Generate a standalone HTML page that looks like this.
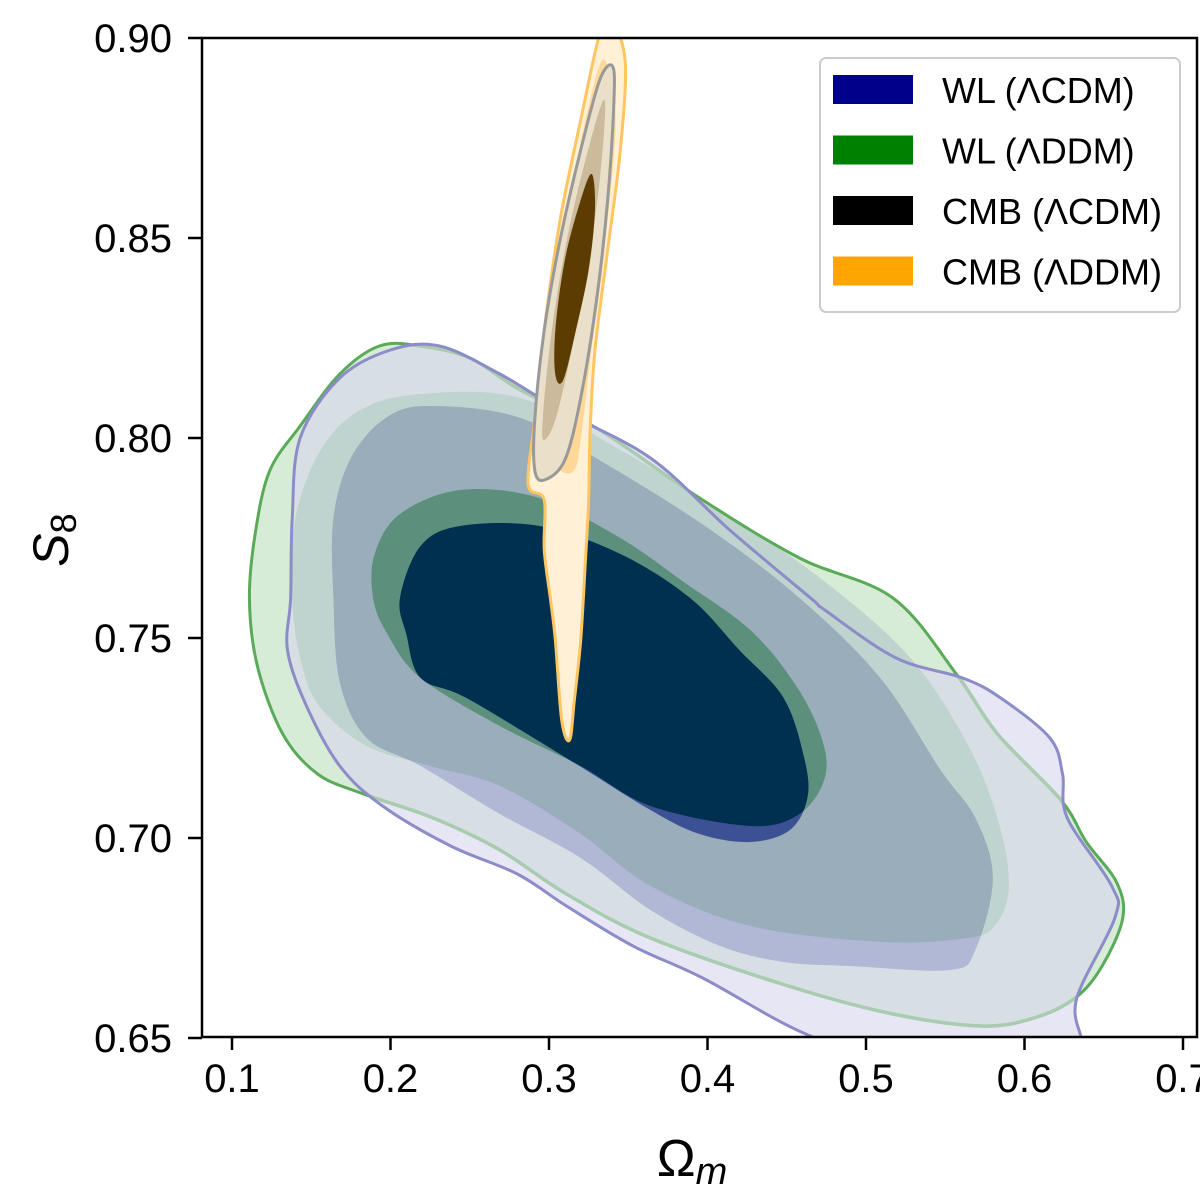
<!DOCTYPE html>
<html><head><meta charset="utf-8"><style>
body{margin:0;background:#fff;}
svg{display:block;font-family:"Liberation Sans","DejaVu Sans",sans-serif;}
</style></head><body>
<svg id="chart" width="1200" height="1193" viewBox="0 0 1200 1193" xmlns="http://www.w3.org/2000/svg">
<defs id="defs"><clipPath id="plotclip"><rect x="202" y="38" width="995" height="999"/></clipPath></defs>
<g id="marks" clip-path="url(#plotclip)"></g>
<g id="axes"></g>
<g id="legend"></g>
</svg>
<script>
// x ticks / y ticks
const xTicks=[0.1,0.2,0.3,0.4,0.5,0.6,0.7];
const yTicks=[0.65,0.70,0.75,0.80,0.85,0.90];
// WL LCDM (purple) contours [Omega_m, S8]
const wlCdmOuter=[[.143,.800],[.168,.815],[.200,.822],[.231,.823],[.269,.816],[.307,.807],[.364,.795],[.414,.777],[.465,.760],[.474,.757],[.519,.745],[.561,.740],[.585,.735],[.616,.725],[.624,.716],[.627,.705],[.655,.688],[.657,.680],[.633,.660],[.636,.6495],[.639,.642],[.527,.643],[.462,.651],[.397,.665],[.353,.673],[.311,.683],[.280,.691],[.238,.698],[.195,.708],[.168,.718],[.147,.733],[.135,.747],[.137,.760],[.138,.780]];
const wlCdmMid=[[.164,.780],[.164,.760],[.168,.739],[.185,.725],[.219,.718],[.269,.706],[.320,.695],[.364,.682],[.408,.673],[.448,.669],[.490,.668],[.553,.667],[.569,.672],[.580,.690],[.569,.705],[.547,.717],[.509,.740],[.458,.760],[.402,.777],[.338,.793],[.282,.805],[.225,.808],[.197,.805],[.175,.795]];
const wlCdmInner=[[.206,.760],[.210,.751],[.219,.740],[.248,.735],[.311,.720],[.364,.707],[.395,.701],[.427,.699],[.452,.702],[.463,.710],[.461,.720],[.448,.735],[.420,.747],[.389,.760],[.345,.771],[.294,.778],[.244,.778],[.219,.773]];
// WL LDDM (green) contours
const wlDdmOuter=[[.124,.792],[.143,.803],[.168,.816],[.193,.823],[.219,.823],[.250,.820],[.282,.812],[.332,.802],[.395,.785],[.458,.770],[.517,.760],[.557,.741],[.583,.726],[.623,.7095],[.639,.699],[.658,.689],[.662,.680],[.649,.668],[.632,.660],[.606,.655],[.573,.653],[.517,.656],[.451,.663],[.364,.675],[.311,.686],[.269,.697],[.227,.705],[.183,.711],[.154,.716],[.132,.726],[.116,.743],[.111,.760],[.115,.777]];
const wlDdmMid=[[.140,.780],[.138,.760],[.143,.745],[.155,.733],[.185,.723],[.225,.718],[.269,.713],[.320,.701],[.364,.688],[.427,.678],[.511,.674],[.564,.675],[.581,.678],[.590,.687],[.585,.702],[.566,.722],[.528,.745],[.471,.765],[.408,.782],[.345,.797],[.282,.810],[.219,.811],[.181,.807],[.156,.797]];
const wlDdmInner=[[.189,.760],[.198,.751],[.219,.740],[.269,.728],[.320,.718],[.364,.708],[.427,.703],[.458,.706],[.474,.715],[.472,.725],[.456,.738],[.427,.752],[.385,.764],[.345,.775],[.294,.785],[.244,.787],[.206,.781],[.190,.771]];
// CMB LDDM (orange) contours
const cmbDdmOuter=[[.338,.905],[.348,.8945],[.345,.872],[.337,.847],[.329,.822],[.326,.802],[.325,.7845],[.323,.7695],[.320,.7495],[.316,.7345],[.313,.7245],[.308,.7295],[.304,.7495],[.301,.7595],[.297,.772],[.297,.7845],[.288,.787],[.287,.792],[.291,.8045],[.297,.827],[.307,.8545],[.320,.8795],[.331,.8995]];
const cmbDdmInner=[[.335,.8945],[.342,.8795],[.335,.847],[.326,.8195],[.320,.7995],[.316,.792],[.307,.792],[.297,.798],[.297,.812],[.304,.8345],[.313,.8595],[.326,.8845]];
// CMB LCDM (black) contours
const cmbCdmOuter=[[.340,.893],[.341,.8845],[.337,.8595],[.330,.8345],[.320,.81],[.310,.7945],[.297,.7895],[.291,.792],[.291,.8045],[.297,.827],[.307,.8495],[.320,.872],[.332,.8895]];
const cmbCdmMid=[[.335,.8845],[.332,.8645],[.323,.8395],[.313,.8195],[.304,.8045],[.297,.7995],[.296,.8045],[.301,.8245],[.310,.847],[.323,.8695]];
const cmbCdmInner=[[.327,.866],[.329,.857],[.325,.842],[.317,.827],[.309,.8145],[.304,.8158],[.304,.827],[.310,.8445],[.320,.8595]];

const X=v=>232+(v-0.1)*1585;
const Y=v=>38+(0.9-v)*4000;
const NS="http://www.w3.org/2000/svg";
function pathOf(pts){
  const p=pts.map(d=>[X(d[0]),Y(d[1])]);const n=p.length;
  let s=`M${p[0][0]},${p[0][1]}`;
  for(let i=0;i<n;i++){
    const p0=p[(i-1+n)%n],p1=p[i],p2=p[(i+1)%n],p3=p[(i+2)%n];
    const c1=[p1[0]+(p2[0]-p0[0])/6,p1[1]+(p2[1]-p0[1])/6];
    const c2=[p2[0]-(p3[0]-p1[0])/6,p2[1]-(p3[1]-p1[1])/6];
    s+=`C${c1[0]},${c1[1]} ${c2[0]},${c2[1]} ${p2[0]},${p2[1]}`;
  }
  return s+'Z';
}
const marks=document.getElementById('marks');
const defs=document.getElementById('defs');
let clipN=0;
function makeClip(pts){
  const c=document.createElementNS(NS,'clipPath');
  const id='cc'+(clipN++);c.setAttribute('id',id);
  const p=document.createElementNS(NS,'path');p.setAttribute('d',pathOf(pts));
  c.appendChild(p);defs.appendChild(c);return id;
}
function addContour(pts,name,fill,stroke,sw,clipPts){
  const e=document.createElementNS(NS,'path');
  e.setAttribute('d',pathOf(pts));
  e.setAttribute('fill',fill);
  e.setAttribute('stroke',stroke);
  e.setAttribute('stroke-width',sw);
  if(clipPts)e.setAttribute('clip-path','url(#'+makeClip(clipPts)+')');
  
  
  marks.appendChild(e);
}
// outer levels
addContour(wlDdmOuter,'wl-lddm-95','#d6ecd6','none',0);
addContour(wlCdmOuter,'wl-lcdm-95','#e6e6f4','none',0);
addContour(wlCdmOuter,'wl-overlap-95','#d7dfe4','none',0,wlDdmOuter);
// mid levels
addContour(wlDdmMid,'wl-lddm-mid','#bfd3cf','none',0);
addContour(wlCdmMid,'wl-lcdm-mid','#b0b8d6','none',0);
addContour(wlCdmMid,'wl-overlap-mid','#9aadba','none',0,wlDdmMid);
// inner levels
addContour(wlDdmInner,'wl-lddm-68','#5c8f7c','none',0);
addContour(wlCdmInner,'wl-lcdm-68','#3c5194','none',0);
addContour(wlCdmInner,'wl-overlap-68','#00304f','none',0,wlDdmInner);
// outlines
addContour(wlDdmOuter,'wl-lddm-outline','none','#5aaa5a',3);
addContour(wlDdmOuter,'wl-lddm-outline-faded','none','#a9cbb0',3.5,wlCdmOuter);
addContour(wlCdmOuter,'wl-lcdm-outline','none','#8c8cc8',3);
// CMB
addContour(cmbDdmOuter,'cmb-lddm-95','#fff0d6','#ffc560',3);
addContour(cmbDdmInner,'cmb-lddm-68','#ffd898','none',0);
addContour(cmbCdmOuter,'cmb-lcdm-95','#eadfc8','#999',3);
addContour(cmbCdmMid,'cmb-lcdm-mid','#cbbb9c','none',0);
addContour(cmbCdmInner,'cmb-lcdm-68','#5c3c00','none',0);

const axes=document.getElementById('axes');
function el(tag,attrs,parent,text){const e=document.createElementNS(NS,tag);for(const k in attrs)e.setAttribute(k,attrs[k]);if(text!==undefined)e.textContent=text;parent.appendChild(e);return e;}
const frame=el('rect',{x:202,y:38,width:995,height:999,fill:'none',stroke:'#000','stroke-width':2.5},axes);


xTicks.forEach(t=>{
  const l=el('line',{x1:X(t),x2:X(t),y1:1037,y2:1050,stroke:'#000','stroke-width':2.5},axes);
  
  
  const tx=el('text',{x:X(t),y:1092,'text-anchor':'middle','font-size':40},axes,t.toFixed(1));
  
  
});
yTicks.forEach(t=>{
  const l=el('line',{x1:188,x2:202,y1:Y(t),y2:Y(t),stroke:'#000','stroke-width':2.5},axes);
  
  
  const tx=el('text',{x:172,y:Y(t)+14,'text-anchor':'end','font-size':40},axes,t.toFixed(2));
  
  
});
const xl=el('text',{x:692,y:1176,'text-anchor':'middle','font-size':52},axes);
xl.innerHTML='Ω<tspan font-style="italic" font-size="38" dy="8">m</tspan>';


const yl=el('text',{transform:'translate(68,540) rotate(-90)','text-anchor':'middle','font-size':50},axes);
yl.innerHTML='<tspan font-style="italic">S</tspan><tspan font-size="36" dy="8">8</tspan>';



const legend=document.getElementById('legend');
const lb=el('rect',{x:820,y:58,width:360,height:254,rx:6,fill:'#fff',stroke:'#ccc','stroke-width':2},legend);


const legLabels=['WL (ΛCDM)','WL (ΛDDM)','CMB (ΛCDM)','CMB (ΛDDM)'];
const legColors=['#00008b','#008000','#000000','#ffa500'];
legLabels.forEach((s,i)=>{
  const y=90+i*60.5;
  const r=el('rect',{x:833,y:y-15,width:80,height:29,fill:legColors[i]},legend);
  
  
  const t=el('text',{x:942,y:y+13,'font-size':36},legend,s);
  
  
});
</script>
</body></html>
